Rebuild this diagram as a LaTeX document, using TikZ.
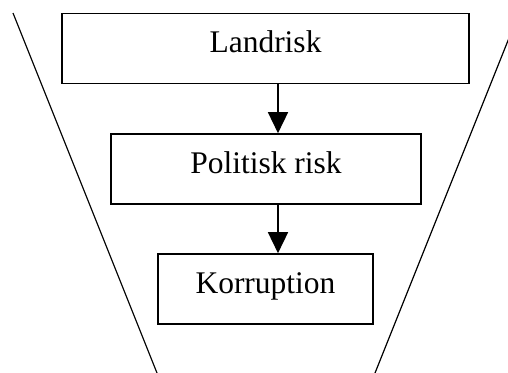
\documentclass[tikz,border=0pt]{standalone}
\usepackage{fontspec}
\setmainfont{Liberation Serif}
\usetikzlibrary{arrows.meta}

\tikzset{
  stage/.style={draw, line width=1.6pt, minimum height=70pt, inner sep=0pt,
    text height=22pt, text depth=14pt, font=\fontsize{31.5}{38}\selectfont},
  flow/.style={line width=1.5pt, -{Triangle[width=20pt,length=21pt]}},
  funnel/.style={line width=1.2pt}
}

\begin{document}
\begin{tikzpicture}[x=1pt, y=-1pt]
  % Frame of the picture
  \path[use as bounding box, clip] (0,0) rectangle (508,372);

  % Funnel edges
  \coordinate (TL) at (13,13);
  \coordinate (BL) at (159,378);
  \coordinate (TR) at (519,13);
  \coordinate (BR) at (373,378);
  \draw[funnel] (TL) -- (BL);
  \draw[funnel] (TR) -- (BR);

  % Stages
  \node[stage, minimum width=407pt] (land) at (265.5,48.5) {Landrisk};
  \node[stage, minimum width=310pt] (pol) at (266,169) {Politisk risk};
  \node[stage, minimum width=215pt] (korr) at (265.5,289) {Korruption};

  % Arrows
  \coordinate (AX) at (278,0);
  \draw[flow] (land.south -| AX) -- (pol.north -| AX);
  \draw[flow] (pol.south -| AX) -- (korr.north -| AX);
\end{tikzpicture}
\end{document}
